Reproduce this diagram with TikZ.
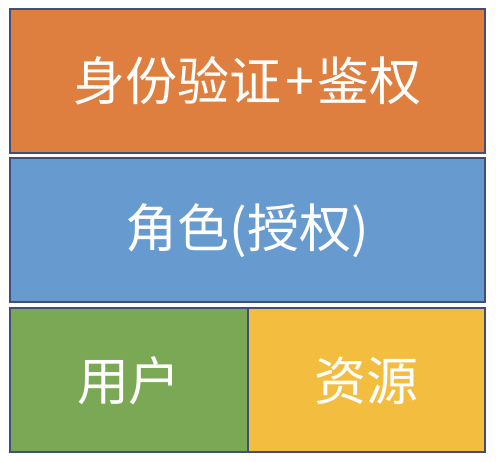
\documentclass[tikz,border=0pt]{standalone}
\usepackage{fontspec}
\newfontfamily\cjk{Noto Sans CJK SC}
\definecolor{authorange}{HTML}{DE7F40}
\definecolor{roleblue}{HTML}{679BD0}
\definecolor{usergreen}{HTML}{7AA854}
\definecolor{resyellow}{HTML}{F3BE3F}
\definecolor{edgeblue}{HTML}{3F4F7A}
\begin{document}
\begin{tikzpicture}[x=1pt,y=-1pt,
    layer/.style={draw=edgeblue,line width=2pt,minimum height=144pt,inner sep=0pt,
                  text=white,font=\cjk\fontsize{52}{62}\selectfont}]
       \useasboundingbox (0,0) rectangle (496,462);
       % Top layer
       \node[layer,fill=authorange,minimum width=475pt] (auth) at (247.5,81) {身份验证\hspace{4pt}+\hspace{4pt}鉴权};
       % Middle layer
       \node[layer,fill=roleblue,minimum width=475pt] (role) at (247.5,230.5) {角色(授权)};
       % Bottom layer, split in two
       \node[layer,fill=usergreen,minimum width=238pt] (user) at (129,380.5) {用户};
       \node[layer,fill=resyellow,minimum width=237pt] (res) at (366.5,380.5) {资源};
      \end{tikzpicture}
\end{document}
